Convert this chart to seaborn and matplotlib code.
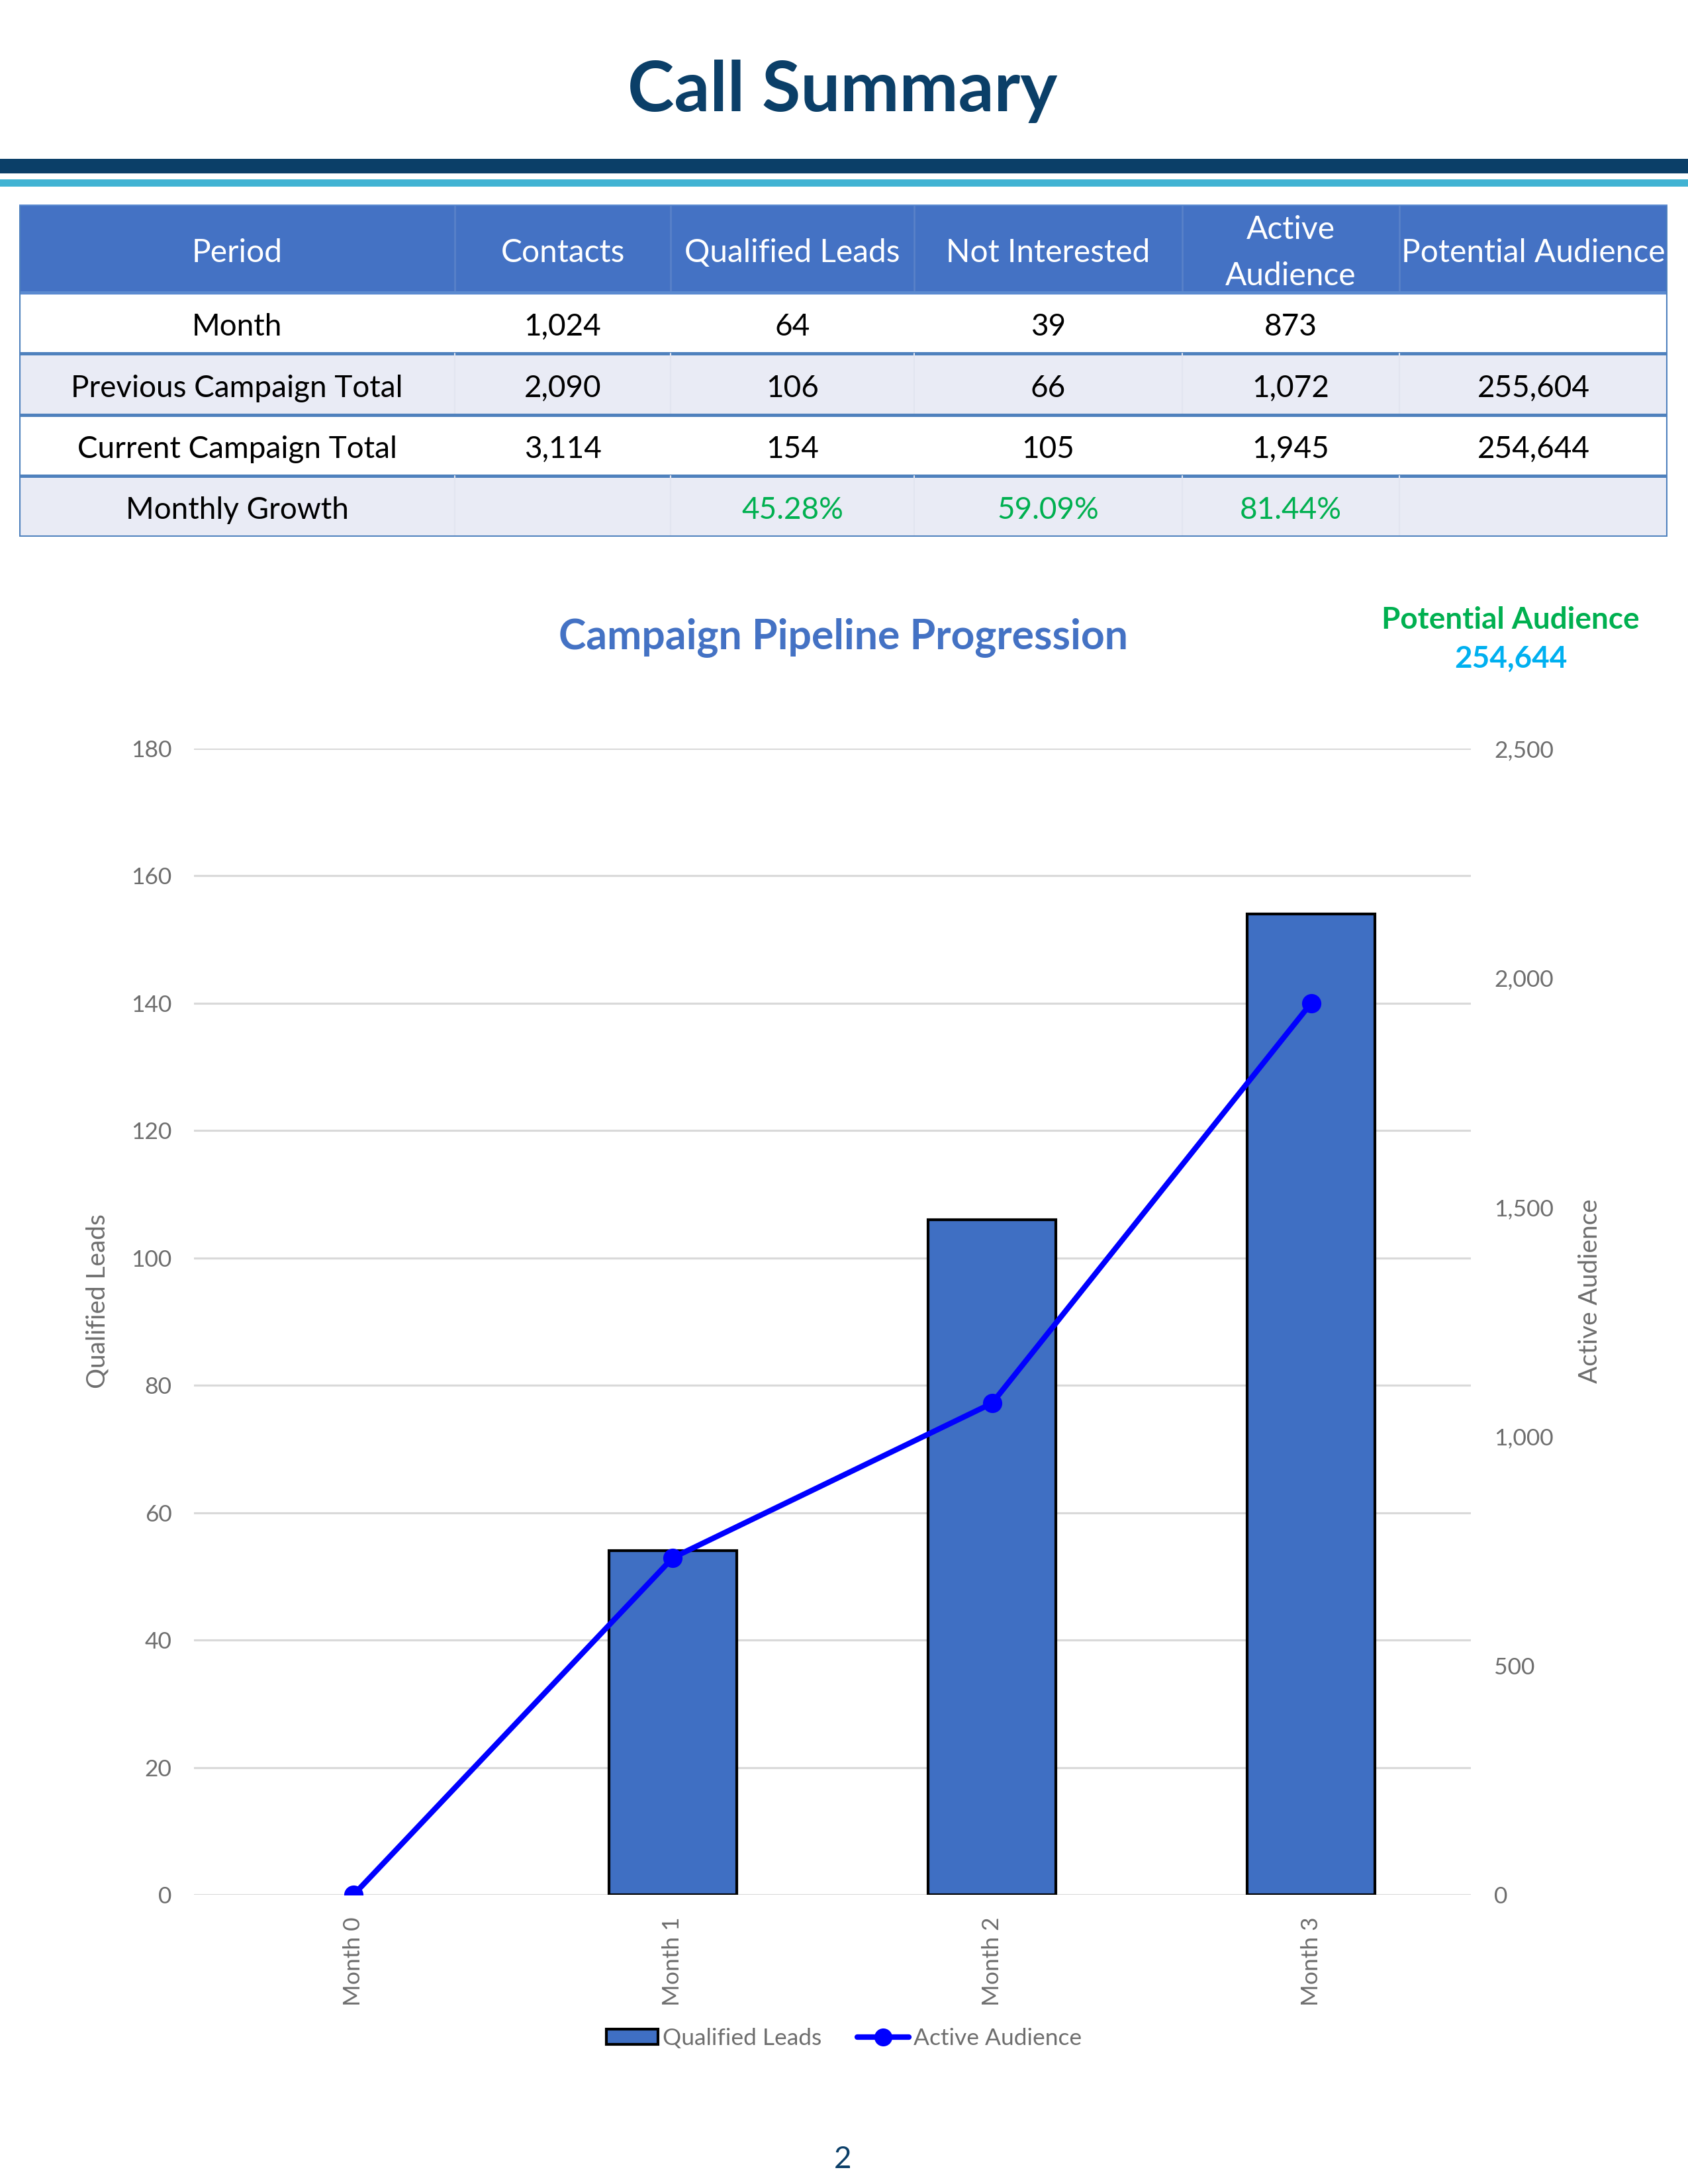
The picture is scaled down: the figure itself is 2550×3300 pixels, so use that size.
import numpy as np
import pandas as pd
import matplotlib
matplotlib.use('Agg')
import matplotlib.pyplot as plt
import seaborn as sns
from matplotlib.patches import Rectangle, Patch
from matplotlib.lines import Line2D
from matplotlib.ticker import FuncFormatter

# Summary table values
table_header = ['Period', 'Contacts', 'Qualified Leads', 'Not Interested', 'Active\nAudience', 'Potential Audience']
periods = ['Month', 'Previous Campaign Total', 'Current Campaign Total', 'Monthly Growth']
contacts = ['1,024', '2,090', '3,114', '']
qualified = ['64', '106', '154', '45.28%']
not_interested = ['39', '66', '105', '59.09%']
active = ['873', '1,072', '1,945', '81.44%']
potential = ['', '255,604', '254,644', '']

# Chart values
months = ['Month 0', 'Month 1', 'Month 2', 'Month 3']
qualified_leads = [0, 54, 106, 154]
active_audience = [0, 735, 1072, 1945]
potential_total = '254,644'

W, H = 2550, 3300
sns.set_theme(style='white')
plt.rcParams['font.family'] = ['Lato', 'DejaVu Sans']

NAVY = '#0B3F68'
HEAD = '#4472C4'
BAR = '#3F6FC3'
BAND = '#E9EBF5'
LINE = '#4F81BD'
GREEN = '#00B050'
CYAN = '#00B0F0'
GRAY = '#6E6E6E'

fig = plt.figure(figsize=(8.5, 11), dpi=300)


def fx(px):
    return px / W


def fy(py):
    return 1 - py / H


# page title and the two rules
fig.text(fx(1273), fy(168), 'Call Summary', ha='center', va='baseline',
         fontsize=25.5, fontweight='bold', color=NAVY)
fig.add_artist(Rectangle((0, fy(262)), 1, (262 - 240) / H, transform=fig.transFigure,
                         color=NAVY, lw=0))
fig.add_artist(Rectangle((0, fy(282)), 1, (282 - 271) / H, transform=fig.transFigure,
                         color='#41B3D3', lw=0))

# table
col_edges = [29, 687, 1013, 1381, 1786, 2114, 2519]
row_edges = [309, 442, 534, 627, 719, 811]
tax = fig.add_axes([fx(29), fy(811), fx(2519 - 29), (811 - 309) / H])
tax.set_xlim(29, 2519)
tax.set_ylim(811, 309)
tax.axis('off')

body = pd.DataFrame({'Period': periods, 'Contacts': contacts, 'Qualified Leads': qualified,
                     'Not Interested': not_interested, 'Active Audience': active,
                     'Potential Audience': potential})

tax.add_patch(Rectangle((29, 309), 2490, 133, color=HEAD, lw=0))
for c, label in enumerate(table_header):
    cx = (col_edges[c] + col_edges[c + 1]) / 2
    tax.text(cx, 382, label, ha='center', va='center', color='white', fontsize=11.5,
             linespacing=1.7)
    if c > 0:
        tax.plot([col_edges[c]] * 2, [309, 442], color='#5A82C9', lw=0.6)

for r in range(len(periods)):
    top, bot = row_edges[r + 1], row_edges[r + 2]
    banded = r % 2 == 1
    tax.add_patch(Rectangle((29, top), 2490, bot - top,
                            color=BAND if banded else 'white', lw=0))
    cy = (top + bot) / 2 + 6
    for c, col in enumerate(body.columns):
        cx = (col_edges[c] + col_edges[c + 1]) / 2
        val = body.iloc[r, c]
        color = GREEN if (r == 3 and c > 0) else 'black'
        tax.text(cx, cy, val, ha='center', va='center', fontsize=11, color=color)
        if c > 0 and banded:
            tax.plot([col_edges[c]] * 2, [top, bot], color='#E2E5F0', lw=0.5)
    tax.plot([29, 2519], [bot, bot], color=LINE, lw=1.2)

tax.plot([29, 2519], [442, 442], color='#5B8AD0', lw=1.2)
tax.plot([29, 29], [309, 811], color=LINE, lw=1.0)
tax.plot([2519, 2519], [309, 811], color=LINE, lw=1.0)
tax.plot([29, 2519], [309, 309], color='#5B8AD0', lw=0.8)

# chart titles
fig.text(fx(1274), fy(980), 'Campaign Pipeline Progression', ha='center', va='baseline',
         fontsize=15, fontweight='bold', color=HEAD)
fig.text(fx(2282), fy(950), 'Potential Audience', ha='center', va='baseline',
         fontsize=11, fontweight='bold', color=GREEN)
fig.text(fx(2282), fy(1008), potential_total, ha='center', va='baseline',
         fontsize=11, fontweight='bold', color=CYAN)

# combo chart
ax = fig.add_axes([fx(293), fy(2863), fx(2222 - 293), (2863 - 1131) / H])
sns.barplot(x=months, y=qualified_leads, ax=ax, color=BAR, saturation=1,
            edgecolor='black', linewidth=1.0, width=0.4, zorder=2)
for p in ax.patches:
    if p.get_height() == 0:
        p.set_linewidth(0)
ax.set_ylim(0, 180)
ax.set_yticks(range(0, 181, 20))
ax.set_xlim(-0.5, 3.5)
ax.grid(axis='y', color='#D9D9D9', lw=0.75)
ax.set_axisbelow(True)
for s in ax.spines.values():
    s.set_visible(False)
ax.tick_params(axis='y', length=0, pad=8, labelsize=8.5, labelcolor=GRAY)
ax.tick_params(axis='x', length=0, pad=8, labelsize=8.5, labelcolor=GRAY, labelrotation=90)
ax.set_ylabel('Qualified Leads', fontsize=9.3, color=GRAY)
ax.yaxis.set_label_coords(-0.066, 0.518)
ax.set_xlabel('')

ax2 = ax.twinx()
sns.pointplot(x=months, y=active_audience, ax=ax2, color='#0000FF', markers='o',
              linestyles='-', errorbar=None, markersize=5.5, linewidth=2.0)
ax2.set_ylim(0, 2500)
ax2.set_yticks(range(0, 2501, 500))
ax2.yaxis.set_major_formatter(FuncFormatter(lambda v, p: f'{int(v):,}'))
ax2.set_xlim(-0.5, 3.5)
for s in ax2.spines.values():
    s.set_visible(False)
ax2.grid(False)
ax2.tick_params(axis='y', length=0, pad=8.5, labelsize=8.5, labelcolor=GRAY)
ax2.set_ylabel('Active Audience', fontsize=9.3, color=GRAY, rotation=90)
ax2.yaxis.set_label_coords(1.084, 0.527)
ax2.set_xlabel('')

handles = [Patch(facecolor=BAR, edgecolor='black', linewidth=1.0, label='Qualified Leads'),
           Line2D([0], [0], color='#0000FF', lw=2.0, marker='o', markersize=5.5,
                  label='Active Audience')]
leg = fig.legend(handles=handles, loc='center', bbox_to_anchor=(0.5, fy(3080)), ncol=2,
                 frameon=False, fontsize=8.5, handlelength=2.2, handleheight=0.6,
                 handletextpad=0.2, columnspacing=1.5)
for t in leg.get_texts():
    t.set_color(GRAY)

fig.text(fx(1273), fy(3263), '2', ha='center', va='center', fontsize=11, color=NAVY)

fig.savefig('out.png', dpi=300, facecolor='white')
